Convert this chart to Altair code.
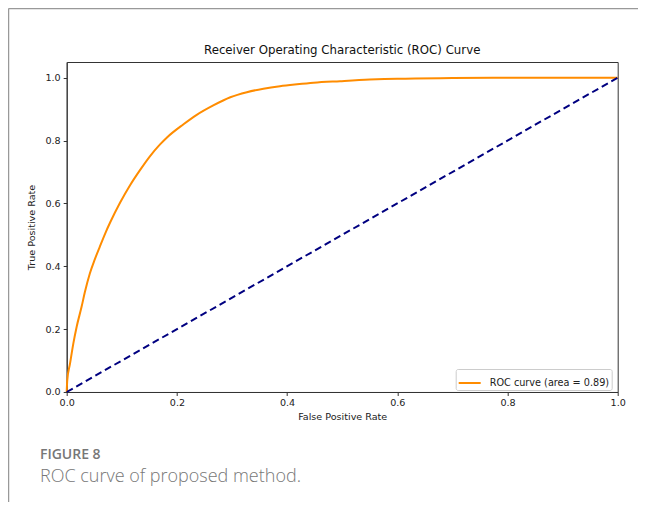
import altair as alt
import pandas as pd

# ROC curve
FPR = [0.0, 0.001, 0.006, 0.012, 0.018, 0.027, 0.033, 0.042, 0.051, 0.060, 0.070,
       0.079, 0.097, 0.115, 0.133, 0.151, 0.169, 0.182, 0.212, 0.236, 0.266, 0.297,
       0.327, 0.357, 0.387, 0.418, 0.448, 0.496, 0.55, 0.6, 0.7, 0.8, 0.9, 1.0]
TPR = [0.0, 0.037, 0.09, 0.154, 0.207, 0.271, 0.318, 0.377, 0.422, 0.462, 0.505,
       0.540, 0.603, 0.658, 0.706, 0.750, 0.787, 0.810, 0.852, 0.882, 0.912, 0.938,
       0.954, 0.965, 0.973, 0.979, 0.984, 0.989, 0.994, 0.997, 0.999, 1.0, 1.0, 1.0]
DIAG_X = [0.0, 1.0]
DIAG_Y = [0.0, 1.0]
SERIES = "ROC curve (area = 0.89)"
TICKS = [0.0, 0.2, 0.4, 0.6, 0.8, 1.0]
TITLE = "Receiver Operating Characteristic (ROC) Curve"
X_TITLE = "False Positive Rate"
Y_TITLE = "True Positive Rate"
CAP_LABEL = "FIGURE 8"
CAP_TEXT = "ROC curve of proposed method."

W, H = 551, 330
FONT = "DejaVu Sans"

roc = pd.DataFrame({"fpr": FPR, "tpr": TPR, "series": [SERIES] * len(FPR)})
diag = pd.DataFrame({"fpr": DIAG_X, "tpr": DIAG_Y})

xs = alt.Scale(domain=[0, 1], nice=False, zero=False)
ys = alt.Scale(domain=[0, 1.05], nice=False, zero=False)

roc_line = alt.Chart(roc).mark_line(strokeWidth=2, interpolate="monotone").encode(
    x=alt.X("fpr:Q", scale=xs, title=X_TITLE,
            axis=alt.Axis(values=TICKS, format=".1f", grid=False, tickSize=3.5,
                          labelPadding=2, titlePadding=4, labelFlush=False)),
    y=alt.Y("tpr:Q", scale=ys, title=Y_TITLE,
            axis=alt.Axis(values=TICKS, format=".1f", grid=False, tickSize=3.5,
                          labelPadding=3, titlePadding=8, labelFlush=False)),
    color=alt.Color("series:N",
                    scale=alt.Scale(domain=[SERIES], range=["#ff8c00"]),
                    legend=alt.Legend(title=None, orient="none", legendX=389, legendY=307,
                                      symbolType="stroke", symbolSize=484,
                                      symbolStrokeWidth=2, labelFont=FONT,
                                      labelFontSize=9.7, labelColor="#222",
                                      strokeColor="#cccccc", fillColor="white",
                                      padding=2, cornerRadius=2, labelOffset=8)),
)

diag_line = alt.Chart(diag).mark_line(strokeWidth=2, color="#000080",
                                      strokeDash=[7, 4]).encode(
    x=alt.X("fpr:Q", scale=xs),
    y=alt.Y("tpr:Q", scale=ys),
)

one = alt.Data(values=[{}])
border_left = alt.Chart(one).mark_rule(color="#999999", strokeWidth=1.5).encode(
    x=alt.value(-58.2), y=alt.value(-53.5), y2=alt.value(H + 120))
border_top = alt.Chart(one).mark_rule(color="#999999", strokeWidth=1.5).encode(
    x=alt.value(-58.2), x2=alt.value(W + 30), y=alt.value(-53.5))

title = alt.Chart(pd.DataFrame({"t": [TITLE]})).mark_text(
    align="center", baseline="middle", font=FONT, fontSize=11.8, color="#111"
).encode(x=alt.value(W / 2), y=alt.value(-12), text="t:N")

cap1 = alt.Chart(pd.DataFrame({"t": [CAP_LABEL]})).mark_text(
    align="left", baseline="middle", font="Open Sans", fontSize=14, fontWeight=600,
    color="#777777").encode(x=alt.value(-26.7), y=alt.value(393), text="t:N")
cap2 = alt.Chart(pd.DataFrame({"t": [CAP_TEXT]})).mark_text(
    align="left", baseline="middle", font="Open Sans", fontSize=18, fontWeight=300,
    color="#777777").encode(x=alt.value(-26.7), y=alt.value(415), text="t:N")

chart = alt.layer(border_left, border_top, roc_line, diag_line, title, cap1, cap2).properties(
    width=W, height=H,
    autosize=alt.AutoSizeParams(type="none"),
    padding={"left": 58.7, "top": 54, "right": 20, "bottom": 110},
).configure_axis(
    labelFont=FONT, titleFont=FONT, labelFontSize=9.6, titleFontSize=9.6,
    titleFontWeight="normal", labelColor="#222", titleColor="#222",
    domainColor="#333", tickColor="#333",
).configure_view(stroke="#333", strokeWidth=1)

chart.save("out.html", embed_options={"renderer": "svg", "actions": False})
